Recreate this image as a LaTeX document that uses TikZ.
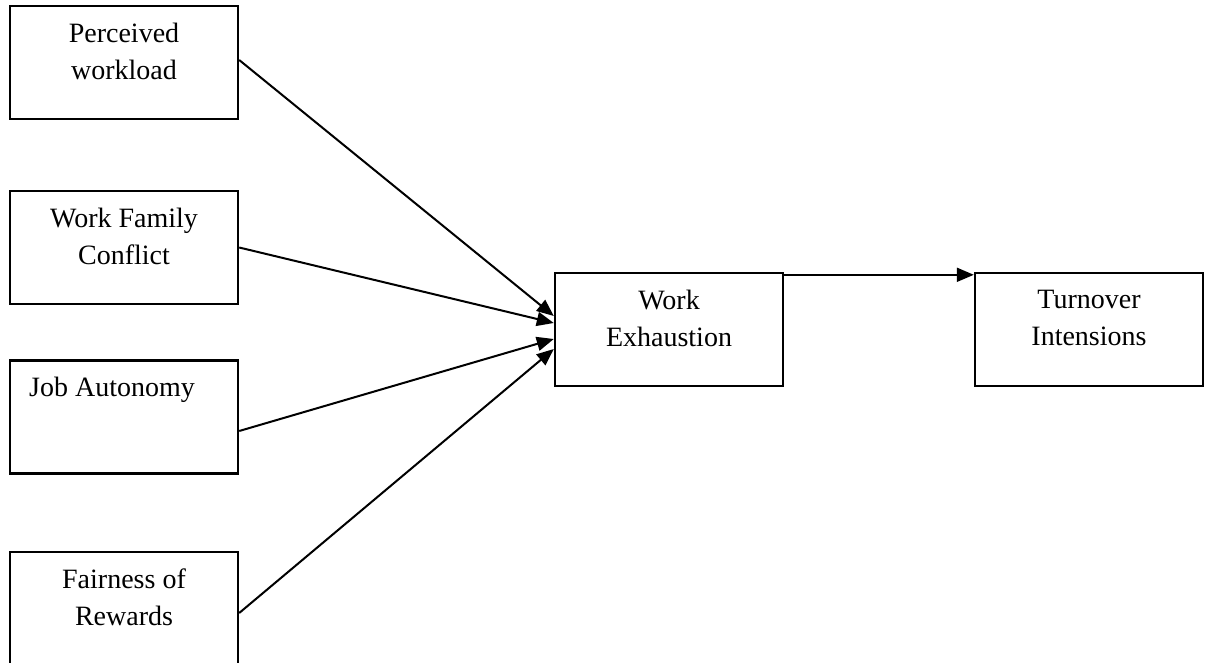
\documentclass[tikz,border=0pt]{standalone}
\usepackage{fontspec}
\setmainfont{Liberation Serif}
\usetikzlibrary{calc, arrows.meta}

\begin{document}
\begin{tikzpicture}[x=0.5pt, y=-0.5pt,
		factor/.style={draw, line width=1.2pt, minimum width=114pt, minimum height=56.5pt, inner sep=0pt},
		caption/.style={align=center, inner sep=0pt, font=\fontsize{14}{18.5}\selectfont},
	]
	\def\gap{8.8pt};
	
	\useasboundingbox (0,0) rectangle (1205,663);
	\clip (0,0) rectangle (1205,663);
	
	\begin{scope}
		\node[factor] (pw) at (124,62.5) {};
		\node[factor] (wfc) at (124,247.5) {};
		\node[factor] (ja) at (124,417) {};
		\node[factor] (fr) at (124,608.5) {};
		
		\node[factor] (we) at (669,329.5) {};
		\node[factor] (ti) at (1089,329.5) {};
	\end{scope}
	
	\begin{scope}[caption]
		\node[anchor=north] (pw-text) at ([yshift=-\gap]pw.north) {Perceived\\workload};
		\node[anchor=north] (wfc-text) at ([yshift=-\gap]wfc.north) {Work Family\\Conflict};
		\node[anchor=north west] (ja-text) at ([xshift=10pt, yshift=-\gap]ja.north west) {Job Autonomy};
		\node[anchor=north] (fr-text) at ([yshift=-\gap]fr.north) {Fairness of\\Rewards};
		\node[anchor=north] (we-text) at ([yshift=-\gap]we.north) {Work\\Exhaustion};
		\node[anchor=north] (ti-text) at ([yshift=-\gap]ti.north) {Turnover\\Intensions};
	\end{scope}
	
	\begin{scope}[-{Triangle[length=8.5pt, width=7pt]}, line width=1pt]
		\draw ([yshift=1.25pt]pw.east) -- ([yshift=6.75pt]we.west);
		\draw (wfc.east) -- ([yshift=3.25pt]we.west);
		\draw ([yshift=-7pt]ja.east) -- ([yshift=-4.75pt]we.west);
		\draw ([yshift=-2.25pt]fr.east) -- ([yshift=-9.75pt]we.west);
		
		\draw ([yshift=-1.5pt]we.north east) -- ([yshift=-1.5pt]ti.north west);
	\end{scope}
\end{tikzpicture}
\end{document}
